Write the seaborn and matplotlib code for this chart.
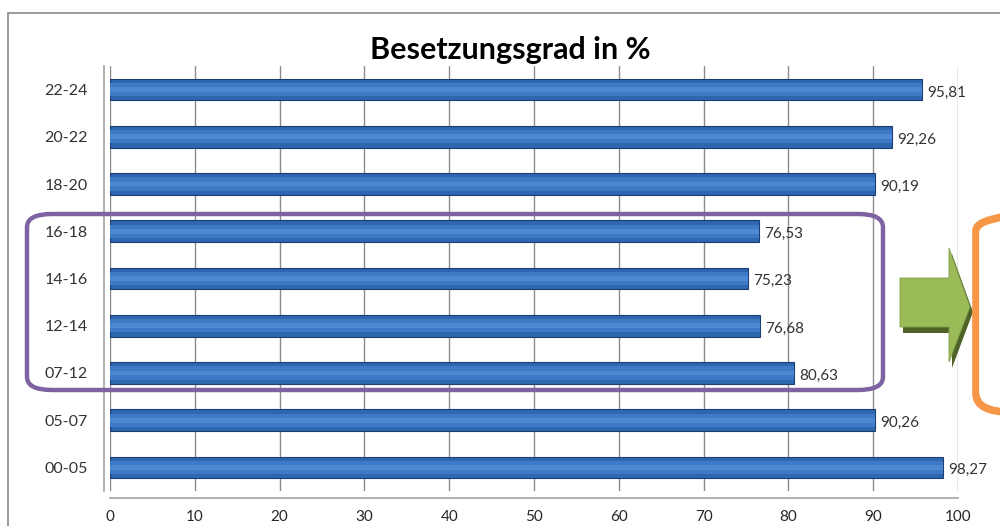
import numpy as np
import pandas as pd
import matplotlib.pyplot as plt
import seaborn as sns
from matplotlib.patches import FancyBboxPatch, Polygon, Rectangle

# data, top to bottom as shown in the chart
slots = ["22-24", "20-22", "18-20", "16-18", "14-16", "12-14", "07-12", "05-07", "00-05"]
occupancy = [95.81, 92.26, 90.19, 76.53, 75.23, 76.68, 80.63, 90.26, 98.27]
x_ticks = [0, 10, 20, 30, 40, 50, 60, 70, 80, 90, 100]
title = "Besetzungsgrad in %"

df = pd.DataFrame({"slot": slots, "value": occupancy})

sns.set_theme(style="white")
plt.rcParams["font.family"] = ["Lato", "DejaVu Sans"]

W, H = 1000, 526
fig = plt.figure(figsize=(10, 5.26), dpi=100)
fig.patch.set_facecolor("white")


def fx(px):
    return px / W


def fy(py):
    return 1 - py / H


# axes placed so 0 -> ~110px, 100 -> ~958px, bars 90..467px
ax = fig.add_axes([fx(110), fy(491), fx(848), (491 - 66) / H])

# main cylinder body
sns.barplot(data=df, x="value", y="slot", orient="h", width=0.46,
            color="#2F66B0", edgecolor="#1C3F73", linewidth=0.8,
            saturation=1, ax=ax, zorder=3)
# soft highlight to suggest the round surface
sns.barplot(data=df, x="value", y="slot", orient="h", width=0.28,
            color="#3D79C6", edgecolor="none", saturation=1, ax=ax, zorder=4)
sns.barplot(data=df, x="value", y="slot", orient="h", width=0.1,
            color="#4C88D2", edgecolor="none", saturation=1, ax=ax, zorder=5)

for i, v in enumerate(occupancy):
    ax.text(v + 0.6, i + 0.06, f"{v:.2f}".replace(".", ","), va="center",
            ha="left", fontsize=11, color="#333333", zorder=6)

ax.set_xlim(0, 100)
ax.set_ylim(8.5, -0.5)
ax.set_xticks(x_ticks)
ax.set_xticklabels([str(t) for t in x_ticks], fontsize=11, color="#333333")
ax.tick_params(axis="x", pad=9, length=0)
ax.tick_params(axis="y", labelsize=11.5, labelcolor="#333333", length=0, pad=12)
ax.set_xlabel("")
ax.set_ylabel("")
ax.grid(axis="x", color="#8C8C8C", linewidth=1, zorder=0)
ax.set_axisbelow(True)
for s in ["top", "right"]:
    ax.spines[s].set_visible(False)
ax.spines["left"].set_color("#A6A6A6")
ax.spines["bottom"].set_color("#A6A6A6")
ax.spines["left"].set_position(("outward", 4))
ax.spines["bottom"].set_position(("outward", 5))
ax.patch.set_alpha(0)

fig.text(fx(510), fy(50), title, ha="center", va="center",
         fontsize=22, fontweight="bold", color="black")

# outer chart frame
fig.add_artist(Rectangle((fx(8), fy(530)), fx(1200), (530 - 13) / H,
                         transform=fig.transFigure, fill=False,
                         edgecolor="#8A8A8A", linewidth=1.2))

# purple rounded frame around midday slots
fig.add_artist(FancyBboxPatch((fx(27), fy(390)), fx(856), (390 - 214) / H,
                              boxstyle="round,pad=0,rounding_size=0.025",
                              transform=fig.transFigure, fill=False,
                              edgecolor="#7F62A2", linewidth=3.2, zorder=10))

# green arrow with dark shadow
shadow = [(903, 284), (952, 284), (952, 254), (973, 312), (952, 368),
          (952, 333), (903, 333)]
arrow = [(900, 278), (949, 278), (949, 248), (970, 307), (949, 362),
         (949, 327), (900, 327)]
fig.add_artist(Polygon([(fx(a), fy(b)) for a, b in shadow], closed=True,
                       transform=fig.transFigure, facecolor="#4F6228",
                       edgecolor="none", zorder=10))
fig.add_artist(Polygon([(fx(a), fy(b)) for a, b in arrow], closed=True,
                       transform=fig.transFigure, facecolor="#9BBB59",
                       edgecolor="#7E9E45", linewidth=0.6, zorder=11))

# orange double rounded frame at the right edge (cut off)
fig.add_artist(FancyBboxPatch((fx(976), fy(412)), fx(150), (412 - 212) / H,
                              boxstyle="round,pad=0,rounding_size=0.035",
                              transform=fig.transFigure, fill=False,
                              edgecolor="#F79646", linewidth=5.5, zorder=10))
fig.add_artist(FancyBboxPatch((fx(980), fy(407)), fx(150), (407 - 217) / H,
                              boxstyle="round,pad=0,rounding_size=0.03",
                              transform=fig.transFigure, fill=False,
                              edgecolor="white", linewidth=1.2, zorder=11))

fig.savefig("out.png", dpi=100)
